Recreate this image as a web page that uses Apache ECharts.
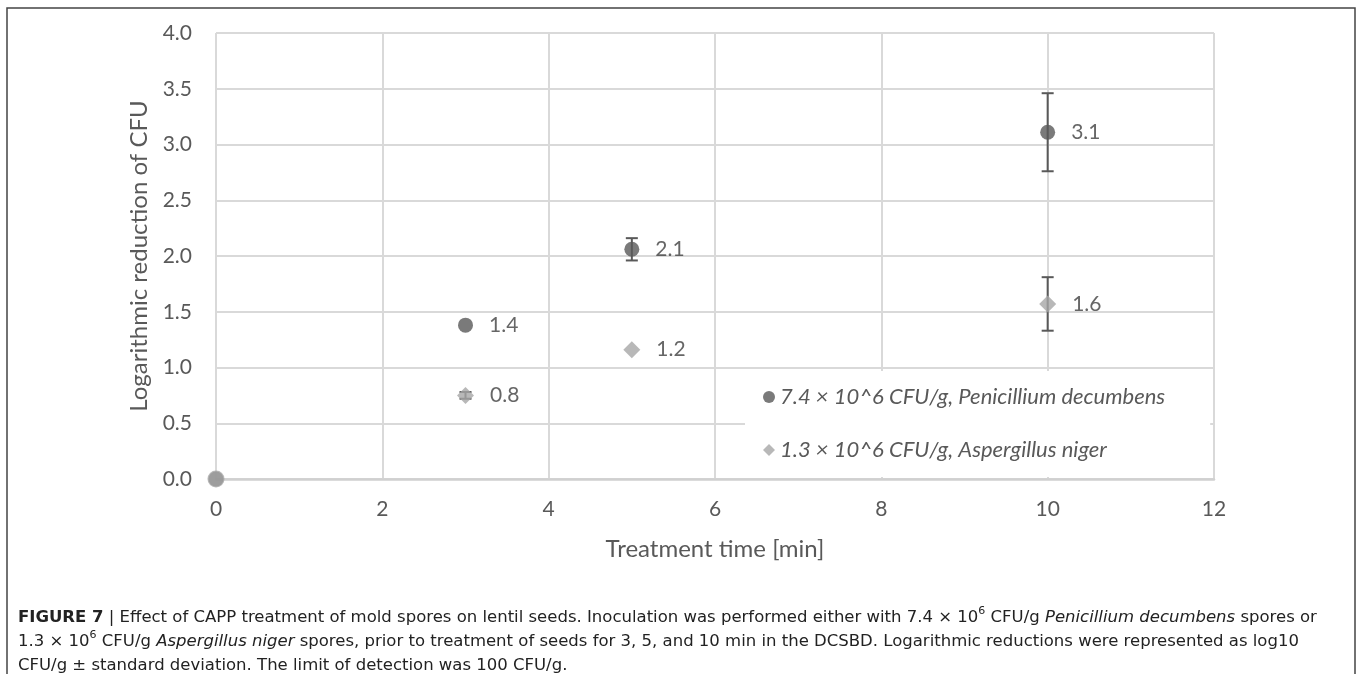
<!DOCTYPE html>
<html>
<head>
<meta charset="utf-8">
<script src="https://cdn.jsdelivr.net/npm/echarts@6/dist/echarts.min.js"></script>
<style>
  html, body { margin: 0; padding: 0; background: #fff; }
  #main { width: 1360px; height: 674px; }
</style>
</head>
<body>
<div id="main"></div>
<script>
// treatment times (min)
const times = [0, 3, 5, 10];
// log reduction, Penicillium decumbens
const peniMean = [0, 1.38, 2.06, 3.11];
const peniSd = [0, 0, 0.1, 0.35];
// log reduction, Aspergillus niger
const aspMean = [0, 0.75, 1.16, 1.57];
const aspSd = [0, 0.03, 0, 0.24];

const peniName = '7.4 × 10^6 CFU/g, Penicillium decumbens';
const aspName = '1.3 × 10^6 CFU/g, Aspergillus niger';

const font = 'Lato, "Open Sans", sans-serif';
const capFont = '"DejaVu Sans", "Liberation Sans", sans-serif';
const dark = '#595959';
const light = '#a6a6a6';

window.addEventListener('load', function () {
  let chart = echarts.init(document.getElementById('main'));

  let points = function (means, firstSymbol) {
    return times.map(function (t, i) {
      let item = { value: [t, means[i]] };
      if (i === 0) {
        item.label = { show: false };
        if (firstSymbol) item.symbol = firstSymbol;
      }
      return item;
    });
  };
  let errData = function (means, sds) {
    return times.map(function (t, i) { return [t, means[i], sds[i]]; })
      .filter(function (d) { return d[2] > 0; });
  };

  function renderErr(params, api) {
    let x = api.value(0), y = api.value(1), e = api.value(2);
    let top = api.coord([x, y + e]);
    let bot = api.coord([x, y - e]);
    let hw = 6;
    let st = { stroke: dark, lineWidth: 2 };
    return {
      type: 'group',
      children: [
        { type: 'line', shape: { x1: top[0], y1: top[1], x2: bot[0], y2: bot[1] }, style: st },
        { type: 'line', shape: { x1: top[0] - hw, y1: top[1], x2: top[0] + hw, y2: top[1] }, style: st },
        { type: 'line', shape: { x1: bot[0] - hw, y1: bot[1], x2: bot[0] + hw, y2: bot[1] }, style: st }
      ]
    };
  }

  let valueLabel = {
    show: true,
    position: 'right',
    distance: 16,
    fontFamily: font,
    fontSize: 21,
    color: '#404040',
    formatter: function (p) { return p.value[1].toFixed(1); }
  };

  let capRich = {
    b: { fontWeight: 'bold', fontSize: 16.5, lineHeight: 24, fontFamily: capFont },
    i: { fontStyle: 'italic', fontSize: 16.5, lineHeight: 24, fontFamily: capFont },
    s: { fontSize: 11, lineHeight: 14, verticalAlign: 'top', fontFamily: capFont }
  };

  let option = {
    animation: false,
    grid: { left: 216, right: 146, top: 33, bottom: 195 },
    xAxis: {
      type: 'value',
      min: 0, max: 12, interval: 2,
      name: 'Treatment time [min]',
      nameLocation: 'middle',
      nameGap: 58,
      nameTextStyle: { fontFamily: font, fontSize: 24, color: dark },
      axisLine: { lineStyle: { color: '#d0d0d0', width: 2.5 } },
      axisTick: { show: false },
      axisLabel: { fontFamily: font, fontSize: 21, color: dark, margin: 20 },
      splitLine: { lineStyle: { color: '#d9d9d9', width: 2 } }
    },
    yAxis: {
      type: 'value',
      min: 0, max: 4, interval: 0.5,
      name: 'Logarithmic reduction of CFU',
      nameLocation: 'middle',
      nameGap: 65,
      nameTextStyle: { fontFamily: font, fontSize: 24, color: dark },
      axisLine: { show: false },
      axisTick: { show: false },
      axisLabel: {
        fontFamily: font, fontSize: 21, color: dark, margin: 24,
        formatter: function (v) { return v.toFixed(1); }
      },
      splitLine: { lineStyle: { color: '#d9d9d9', width: 2 } }
    },
    legend: {
      orient: 'vertical',
      left: 745,
      top: 371,
      padding: [15, 45, 16, 18],
      itemGap: 31,
      itemWidth: 12,
      itemHeight: 12,
      backgroundColor: '#fff',
      textStyle: { fontFamily: font, fontSize: 22, fontStyle: 'italic', color: dark },
      data: [
        { name: peniName, icon: 'circle' },
        { name: aspName, icon: 'diamond' }
      ],
      z: 2
    },
    graphic: [
      {
        type: 'rect',
        shape: { x: 7, y: 8, width: 1348, height: 700 },
        style: { fill: 'none', stroke: '#444', lineWidth: 1.5 },
        silent: true
      },
      {
        type: 'text',
        left: 18,
        top: 606,
        style: {
          text: '{b|FIGURE 7} | Effect of CAPP treatment of mold spores on lentil seeds. Inoculation was performed either with 7.4 × 10{s|6} CFU/g {i|Penicillium decumbens} spores or\n' +
            '1.3 × 10{s|6} CFU/g {i|Aspergillus niger} spores, prior to treatment of seeds for 3, 5, and 10 min in the DCSBD. Logarithmic reductions were represented as log10\n' +
            'CFU/g ± standard deviation. The limit of detection was 100 CFU/g.',
          fontFamily: capFont,
          fontSize: 16.5,
          lineHeight: 24,
          fill: '#222',
          rich: capRich
        }
      }
    ],
    series: [
      {
        name: 'peniErr',
        type: 'custom',
        renderItem: renderErr,
        data: errData(peniMean, peniSd),
        z: 1
      },
      {
        name: 'aspErr',
        type: 'custom',
        renderItem: renderErr,
        data: errData(aspMean, aspSd),
        z: 1
      },
      {
        name: peniName,
        type: 'scatter',
        symbol: 'circle',
        symbolSize: 15,
        itemStyle: { color: dark },
        label: valueLabel,
        data: points(peniMean),
        z: 3
      },
      {
        name: aspName,
        type: 'scatter',
        symbol: 'diamond',
        symbolSize: 17,
        itemStyle: { color: light },
        label: valueLabel,
        data: points(aspMean, 'circle'),
        z: 4
      }
    ]
  };

  chart.setOption(option);
});
</script>
</body>
</html>
